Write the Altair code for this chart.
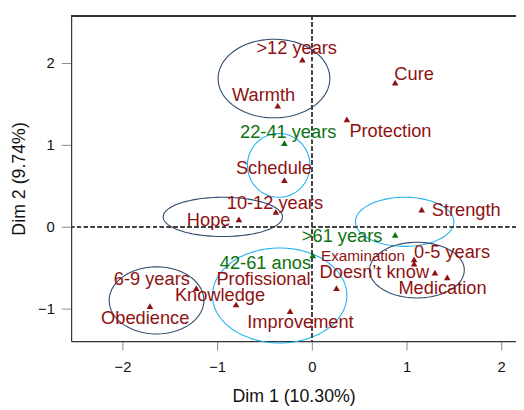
import altair as alt
import numpy as np
import pandas as pd

# ---- category points (Dim 1, Dim 2) ----
names = [">12 years", "Warmth", "Cure", "Protection", "22-41 years", "Schedule",
         "10-12 years", "Hope", "Strength", ">61 years", "42-61 anos", "0-5 years",
         "Examination", "Doesn\u2019t know", "Medication", "Profissional", "Improvement",
         "6-9 years", "Knowledge", "Obedience"]
dim1 = [-0.10, -0.36, 0.88, 0.37, -0.29, -0.29, -0.38, -0.77, 1.16, 0.88, 0.01, 1.08,
        1.08, 1.30, 1.43, 0.26, -0.23, -1.22, -0.80, -1.71]
dim2 = [2.04, 1.48, 1.76, 1.31, 1.02, 0.57, 0.18, 0.09, 0.21, -0.10, -0.35, -0.40,
        -0.45, -0.56, -0.62, -0.75, -1.03, -0.75, -0.95, -0.97]
group = ["var", "var", "var", "var", "sup", "var", "var", "var", "var", "sup", "sup",
         "var", "var", "var", "var", "var", "var", "var", "var", "var"]
# label anchor positions (data units)
label_x = [-0.16, -0.51, 1.08, 0.83, -0.25, -0.40, -0.39, -1.09, 1.63, 0.32, -0.49, 1.48,
           0.54, 0.66, 1.38, -0.51, -0.12, -1.69, -0.97, -1.76]
label_y = [2.18, 1.61, 1.87, 1.17, 1.16, 0.72, 0.29, 0.08, 0.20, -0.12, -0.44, -0.31,
           -0.36, -0.55, -0.75, -0.64, -1.16, -0.64, -0.84, -1.12]

# ---- cluster ellipses ----
ell_cx = [-0.40, -0.35, -0.94, 0.98, 1.11, -1.64, -0.34]
ell_cy = [1.81, 0.75, 0.12, 0.06, -0.53, -0.90, -0.84]
ell_rx = [0.59, 0.33, 0.63, 0.52, 0.50, 0.50, 0.71]
ell_ry = [0.48, 0.39, 0.24, 0.30, 0.34, 0.41, 0.58]
ell_kind = ["navy", "cyan", "navy", "cyan", "navy", "navy", "cyan"]

RED = "#8E1212"
GREEN = "#0E720E"
NAVY = "#2E4A6C"
CYAN = "#22B2EE"
FONT = "Liberation Sans"

pts = pd.DataFrame({"name": names, "x": dim1, "y": dim2,
                    "col": [RED if g == "var" else GREEN for g in group],
                    "lx": label_x, "ly": label_y})

rows = []
t = np.linspace(0, 2 * np.pi, 121)
for k in range(len(ell_cx)):
    c = NAVY if ell_kind[k] == "navy" else CYAN
    for i, a in enumerate(t):
        rows.append({"e": k, "i": i, "col": c,
                     "x": ell_cx[k] + ell_rx[k] * np.cos(a),
                     "y": ell_cy[k] + ell_ry[k] * np.sin(a)})
ell = pd.DataFrame(rows)

xs = alt.Scale(domain=[-2.542, 2.156], nice=False, zero=False)
ys = alt.Scale(domain=[-1.398, 2.578], nice=False, zero=False)

xax = alt.Axis(values=[-2, -1, 0, 1, 2], format="d", title="Dim 1 (10.30%)", grid=False,
               tickSize=9, labelPadding=10, titlePadding=13)
yax = alt.Axis(values=[-1, 0, 1, 2], format="d", title="Dim 2 (9.74%)", grid=False,
               tickSize=10, labelPadding=7, titlePadding=9)

ellipses = alt.Chart(ell).mark_line(strokeWidth=1.1).encode(
    x=alt.X("x:Q", scale=xs, axis=xax),
    y=alt.Y("y:Q", scale=ys, axis=yax),
    detail="e:N",
    order="i:Q",
    color=alt.Color("col:N", scale=None),
)

vline = alt.Chart(pts).mark_rule(color="#444", strokeDash=[4, 3], strokeWidth=1).encode(
    x=alt.datum(0, scale=xs))
hline = alt.Chart(pts).mark_rule(color="#444", strokeDash=[4, 3], strokeWidth=1).encode(
    y=alt.datum(0, scale=ys))
topline = alt.Chart(pts).mark_rule(color="#333", strokeWidth=1.2).encode(
    y=alt.value(0))

points = alt.Chart(pts).mark_point(shape="triangle-up", filled=True, size=45, opacity=1).encode(
    x=alt.X("x:Q", scale=xs), y=alt.Y("y:Q", scale=ys),
    color=alt.Color("col:N", scale=None))

labels = alt.Chart(pts).mark_text(font=FONT, baseline="middle", align="center").encode(
    x=alt.X("lx:Q", scale=xs), y=alt.Y("ly:Q", scale=ys), text="name:N",
    color=alt.Color("col:N", scale=None),
    size=alt.condition(alt.datum.name == "Examination", alt.value(15.5), alt.value(18.5)))

chart = alt.layer(ellipses, vline, hline, topline, points, labels).properties(
    width=451, height=330,
    autosize=alt.AutoSizeParams(type="none"),
    padding={"left": 64, "top": 5, "right": 0, "bottom": 66},
).configure_view(stroke=None).configure_axis(
    labelFont=FONT, titleFont=FONT, labelFontSize=15, titleFontSize=18,
    titleFontWeight="normal", labelColor="#111", titleColor="#111",
    domainColor="#333", tickColor="#888", domainWidth=1.2,
)

chart.save("out.html", embed_options={"renderer": "svg", "actions": False})
